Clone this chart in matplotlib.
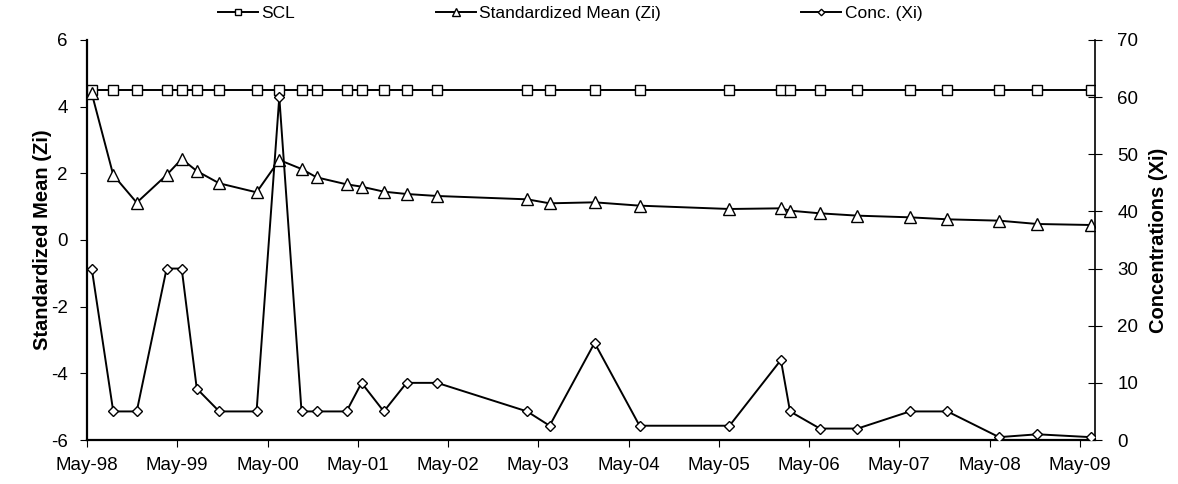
import matplotlib
matplotlib.use('Agg')
import matplotlib.pyplot as plt
import numpy as np
import pandas as pd

plt.rcParams['font.family'] = ['Liberation Sans', 'DejaVu Sans']
plt.rcParams['axes.unicode_minus'] = False

# sampling dates
dates = pd.to_datetime([
    '1998-05-20', '1998-08-15', '1998-11-18', '1999-03-19', '1999-05-19',
    '1999-07-19', '1999-10-18', '2000-03-17', '2000-06-17', '2000-09-15',
    '2000-11-15', '2001-03-16', '2001-05-16', '2001-08-14', '2001-11-14',
    '2002-03-18', '2003-03-17', '2003-06-16', '2003-12-15', '2004-06-14',
    '2005-06-13', '2006-01-07', '2006-02-13', '2006-06-14', '2006-11-13',
    '2007-06-13', '2007-11-12', '2008-06-08', '2008-11-10', '2009-06-14'])

scl = [4.5] * 30

zi = [4.4, 1.95, 1.12, 1.95, 2.43, 2.07, 1.7, 1.43, 2.4, 2.13,
      1.88, 1.67, 1.6, 1.45, 1.38, 1.32, 1.22, 1.1, 1.13, 1.03,
      0.93, 0.95, 0.88, 0.8, 0.73, 0.68, 0.62, 0.58, 0.48, 0.45]

xi = [30, 5, 5, 30, 30, 9, 5, 5, 60, 5,
      5, 5, 10, 5, 10, 10, 5, 2.5, 17, 2.5,
      2.5, 14, 5, 2, 2, 5, 5, 0.5, 1, 0.5]

tick_dates = pd.date_range('1998-05-01', '2009-05-01', freq='12MS')
tick_labels = [d.strftime('%b-%y') for d in tick_dates]

fig = plt.figure(figsize=(11.78, 4.84), dpi=100)
ax = fig.add_axes([0.0739, 0.0909, 0.8556, 0.8265])
ax2 = ax.twinx()

lw = 1.4
l1, = ax.plot(dates, scl, color='black', lw=lw, marker='s', ms=7.5,
              mfc='white', mec='black', mew=1.0, label='SCL', zorder=3)
l2, = ax.plot(dates, zi, color='black', lw=lw, marker='^', ms=8.5,
              mfc='white', mec='black', mew=1.0, label='Standardized Mean (Zi)', zorder=3)
l3, = ax2.plot(dates, xi, color='black', lw=lw, marker='D', ms=5.5,
               mfc='white', mec='black', mew=1.0, label='Conc. (Xi)', zorder=3)

ax.set_xlim(pd.Timestamp('1998-05-01'), pd.Timestamp('2009-07-01'))
ax.set_ylim(-6, 6)
ax.set_yticks(np.arange(-6, 7, 2))
ax2.set_ylim(0, 70)
ax2.set_yticks(np.arange(0, 71, 10))
ax.set_xticks(tick_dates)
ax.set_xticklabels(tick_labels)

ax.tick_params(axis='both', labelsize=13.5, direction='out', length=5, width=0.8)
ax.tick_params(axis='x', pad=7)
ax.tick_params(axis='y', pad=9)
ax2.tick_params(axis='y', labelsize=13.5, direction='inout', length=10, width=0.8, pad=11)

for a in (ax, ax2):
    a.spines['top'].set_visible(False)
ax.spines['right'].set_visible(False)
ax.spines['left'].set_linewidth(1.6)
ax.spines['bottom'].set_linewidth(1.6)
ax2.spines['left'].set_visible(False)
ax2.spines['bottom'].set_visible(False)
ax2.spines['right'].set_linewidth(1.2)

ax.set_ylabel('Standardized Mean (Zi)', fontsize=14.5, fontweight='bold', labelpad=-1)
ax2.set_ylabel('Concentrations (Xi)', fontsize=14.5, fontweight='bold', labelpad=8)

fig.legend(handles=[l1, l2, l3], loc='upper center', bbox_to_anchor=(0.484, 1.02),
           ncol=3, frameon=False, fontsize=12.5, markerscale=0.6,
           handlelength=2.3, handletextpad=0.2, columnspacing=8.1)

fig.savefig('out.png', dpi=100)
